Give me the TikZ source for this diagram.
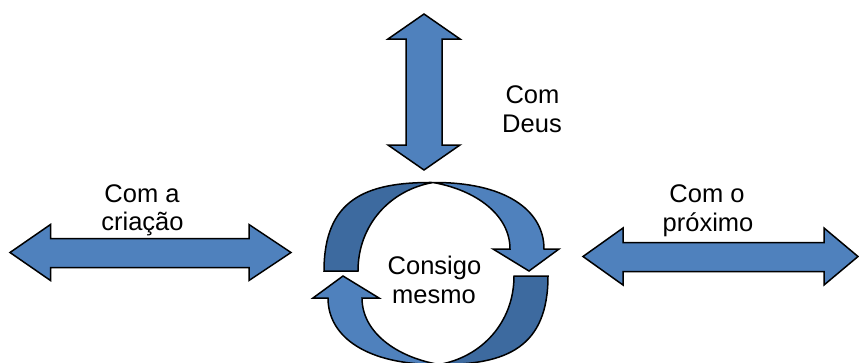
\documentclass[tikz,border=0pt]{standalone}
\usepackage{fontspec}
\setmainfont{Liberation Sans}
\definecolor{lightblue}{HTML}{4F81BD}
\definecolor{darkblue}{HTML}{3D6A9F}
\begin{document}
\begin{tikzpicture}[x=1pt,y=-1pt,
  bluepart/.style={draw=black,line width=1.5pt,line join=miter,fill=lightblue},
  backpart/.style={bluepart,fill=darkblue},
  lbl/.style={anchor=base,inner sep=0pt,font=\fontsize{25.5}{29}\selectfont}]
\useasboundingbox (0,0) rectangle (859,362);
\clip (0,0) rectangle (859,362);
% vertical double arrow
\draw[bluepart] (424,14) -- (460,39) -- (442,39) -- (442,145) -- (460,145) -- (424,170)
  -- (388,145) -- (406,145) -- (406,39) -- (388,39) -- cycle;
% left horizontal double arrow
\draw[bluepart] (10,252.5) -- (50.5,224.5) -- (50.5,238.5) -- (249,238.5) -- (249,224.5) -- (291,252.5)
  -- (249,280.5) -- (249,267.5) -- (50.5,267.5) -- (50.5,280.5) -- cycle;
% right horizontal double arrow
\draw[bluepart] (583,256.5) -- (623,228) -- (623,242.5) -- (824,242.5) -- (824,228) -- (858,256.5)
  -- (824,285) -- (824,271.5) -- (623,271.5) -- (623,285) -- cycle;
% circular arrows (upper piece and its 180 degree copy)
\foreach \ang in {0,180}{
\begin{scope}[rotate around={\ang:(436,273.5)}]
  \draw[backpart] (324,271) -- (358,271) .. controls (358,225) and (390,190) .. (433,182.5)
    .. controls (365,182) and (324,200) .. (324,271) -- cycle;
  \draw[bluepart] (433,182.5) .. controls (505,182) and (544,210) .. (544,249) -- (559,249) -- (529,271)
    -- (493,249) -- (510,249) .. controls (510,215) and (476,190) .. (433,182.5) -- cycle;
\end{scope}
}
% labels
\node[lbl] (deus1) at (532.5,103) {Com};
\node[lbl] (deus2) at (532,132) {Deus};
\node[lbl] (criacao1) at (142,202) {Com a};
\node[lbl] (criacao2) at (142.5,230) {criação};
\node[lbl] (proximo1) at (707,202) {Com o};
\node[lbl] (proximo2) at (708,231) {próximo};
\node[lbl] (consigo1) at (434.5,274) {Consigo};
\node[lbl] (consigo2) at (434,303) {mesmo};
\end{tikzpicture}
\end{document}
